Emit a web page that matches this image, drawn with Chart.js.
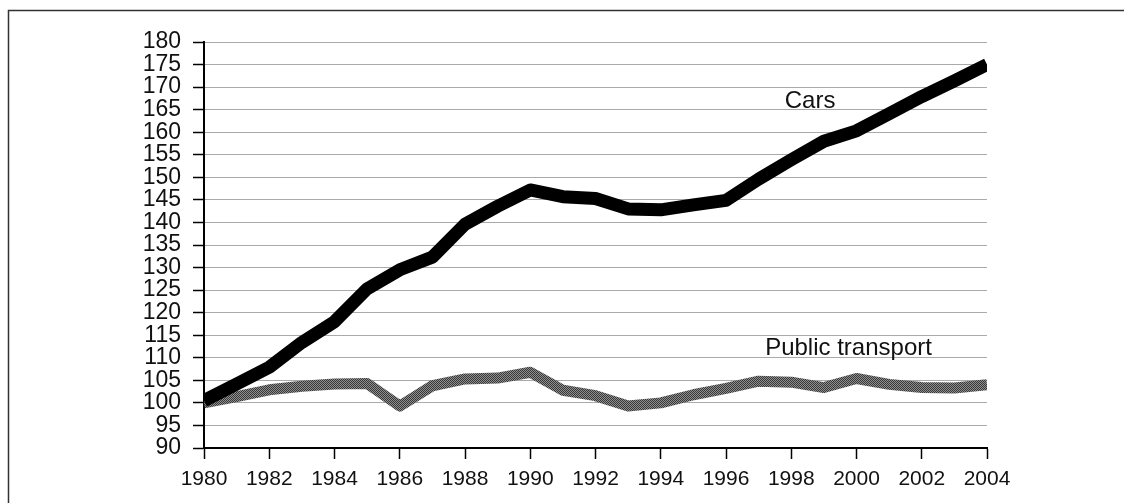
<!DOCTYPE html>
<html>
<head>
<meta charset="utf-8">
<style>
  html, body { margin: 0; padding: 0; background: #fff; }
  #wrap { width: 1124px; height: 503px; position: relative; }
</style>
<script src="https://cdn.jsdelivr.net/npm/chart.js@4.4.1/dist/chart.umd.min.js"></script>
</head>
<body>
<div id="wrap"><canvas id="chart" width="1124" height="503"></canvas></div>
<script>
// --- Data ---
const years = [1980, 1981, 1982, 1983, 1984, 1985, 1986, 1987, 1988, 1989, 1990, 1991, 1992,
  1993, 1994, 1995, 1996, 1997, 1998, 1999, 2000, 2001, 2002, 2003, 2004];
const cars = [100.5, 104.2, 107.9, 113.4, 118, 125.3, 129.5, 132.3, 139.6, 143.6, 147.2, 145.7, 145.3,
  143, 142.8, 143.9, 144.9, 149.6, 153.9, 158, 160.3, 164.1, 167.9, 171.4, 175];
const publicTransport = [100, 101.4, 102.9, 103.7, 104.2, 104.3, 99.3, 103.8, 105.3, 105.5, 106.8, 102.8, 101.6,
  99.3, 100, 101.8, 103.2, 104.8, 104.6, 103.4, 105.4, 104.1, 103.4, 103.3, 104];
const seriesNames = ['Cars', 'Public transport'];

const FONT = "'Liberation Sans', Arial, sans-serif";

// crosshatch texture for the grey line
function hatchPattern() {
  const c = document.createElement('canvas');
  c.width = 2; c.height = 2;
  const g = c.getContext('2d');
  g.fillStyle = '#8f8f8f';
  g.fillRect(0, 0, 2, 2);
  g.fillStyle = '#383838';
  g.fillRect(0, 0, 1, 1);
  g.fillRect(1, 1, 1, 1);
  return g.createPattern(c, 'repeat');
}

// outer frame (top + left edge of the scanned box)
const framePlugin = {
  id: 'frame',
  beforeDraw(chart) {
    const ctx = chart.ctx;
    ctx.save();
    ctx.strokeStyle = '#333';
    ctx.lineWidth = 1.5;
    ctx.beginPath();
    ctx.moveTo(8.5, 503);
    ctx.lineTo(8.5, 10.5);
    ctx.lineTo(1124, 10.5);
    ctx.stroke();
    ctx.restore();
  }
};

// series names written next to the lines
const labelPlugin = {
  id: 'seriesLabels',
  afterDatasetsDraw(chart) {
    const { ctx, scales: { x, y } } = chart;
    const spots = [[1997.8, 165.3], [1997.2, 110.6]];
    ctx.save();
    ctx.fillStyle = '#111';
    ctx.font = '24px ' + FONT;
    ctx.textBaseline = 'alphabetic';
    ctx.textAlign = 'left';
    seriesNames.forEach((name, i) => {
      ctx.fillText(name, x.getPixelForValue(spots[i][0]), y.getPixelForValue(spots[i][1]));
    });
    ctx.restore();
  }
};

const ctx = document.getElementById('chart').getContext('2d');
new Chart(ctx, {
  type: 'line',
  data: {
    datasets: [
      {
        label: seriesNames[0],
        data: years.map((yr, i) => ({ x: yr, y: cars[i] })),
        borderColor: '#000',
        borderWidth: 13,
        borderJoinStyle: 'round',
        pointRadius: 0,
        tension: 0
      },
      {
        label: seriesNames[1],
        data: years.map((yr, i) => ({ x: yr, y: publicTransport[i] })),
        borderColor: hatchPattern(),
        borderWidth: 11,
        borderJoinStyle: 'round',
        pointRadius: 0,
        tension: 0
      }
    ]
  },
  options: {
    responsive: false,
    animation: false,
    layout: { padding: { left: 0, right: 137, top: 42, bottom: 0 } },
    plugins: {
      legend: { display: false },
      tooltip: { enabled: false }
    },
    scales: {
      x: {
        type: 'linear',
        min: 1980,
        max: 2004,
        afterFit: s => { s.height = 55; },
        border: { color: '#000', width: 2 },
        grid: {
          drawOnChartArea: false,
          drawTicks: true,
          tickLength: 11,
          tickColor: '#000',
          tickWidth: 1.5
        },
        ticks: {
          stepSize: 2,
          autoSkip: false,
          maxRotation: 0,
          padding: 8,
          color: '#111',
          font: { family: FONT, size: 21 },
          callback: v => String(v)
        }
      },
      y: {
        min: 90,
        max: 180,
        afterFit: s => { s.width = 204; },
        border: { color: '#000', width: 2 },
        grid: {
          color: '#aaaaaa',
          lineWidth: 1,
          borderDash: [1, 2],
          tickLength: 11,
          tickColor: '#000',
          tickWidth: 1.5,
          tickBorderDash: []
        },
        ticks: {
          stepSize: 5,
          autoSkip: false,
          padding: 12,
          color: '#111',
          font: { family: FONT, size: 23 }
        }
      }
    }
  },
  plugins: [framePlugin, labelPlugin]
});
</script>
</body>
</html>
